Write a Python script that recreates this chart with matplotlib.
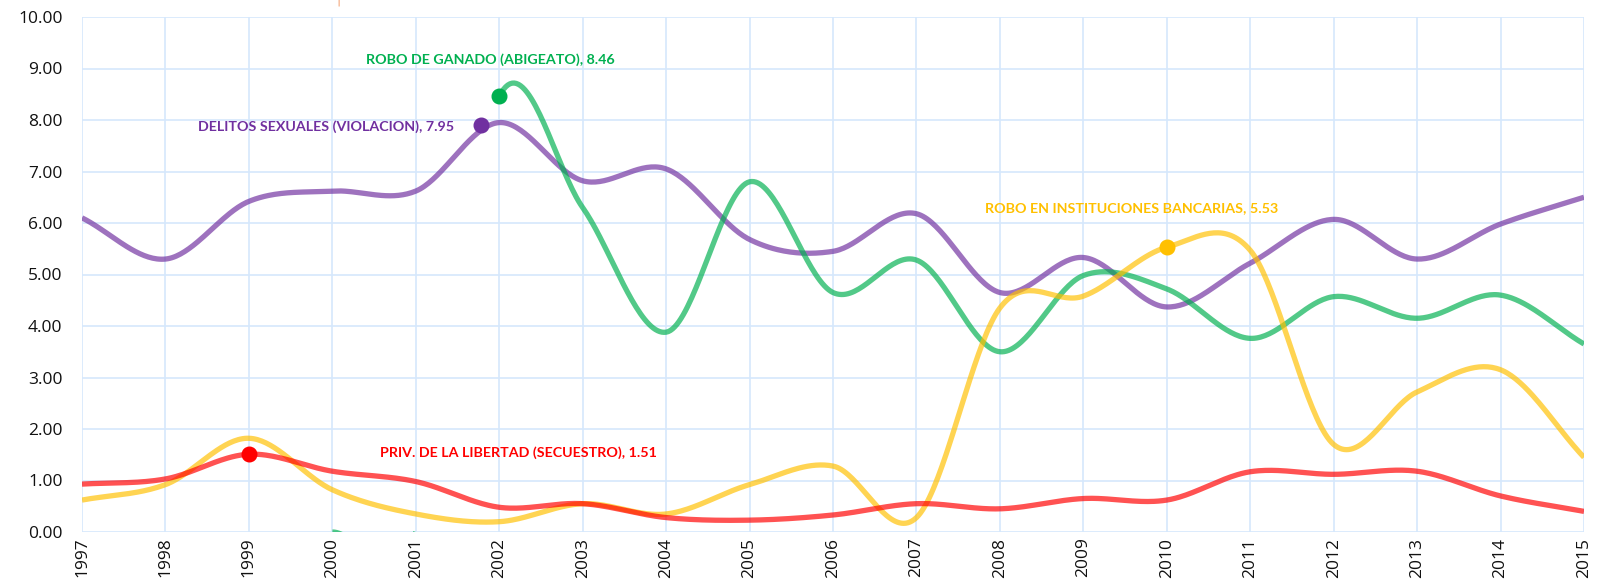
import numpy as np
import matplotlib
matplotlib.use("Agg")
import matplotlib.pyplot as plt

years = list(range(1997, 2016))

violacion = [6.10, 5.30, 6.42, 6.62, 6.62, 7.95, 6.82, 7.05, 5.68, 5.45,
             6.18, 4.65, 5.33, 4.37, 5.22, 6.07, 5.30, 5.98, 6.50]
abigeato = [np.nan, np.nan, np.nan, 0.0, 0.0, 8.46, 6.30, 3.88, 6.80, 4.65,
            5.28, 3.50, 4.98, 4.72, 3.76, 4.57, 4.15, 4.60, 3.65]
abigeato_gaps = [2001]  # segment starting at this year is not drawn
bancarias = [0.62, 0.92, 1.82, 0.82, 0.35, 0.20, 0.55, 0.35, 0.92, 1.28,
             0.28, 4.35, 4.58, 5.53, 5.47, 1.70, 2.72, 3.15, 1.45]
secuestro = [0.93, 1.03, 1.51, 1.18, 0.98, 0.48, 0.55, 0.28, 0.23, 0.33,
             0.55, 0.45, 0.65, 0.62, 1.17, 1.12, 1.18, 0.70, 0.40]

labels = ["DELITOS SEXUALES (VIOLACION), 7.95",
          "ROBO DE GANADO (ABIGEATO), 8.46",
          "ROBO EN INSTITUCIONES BANCARIAS, 5.53",
          "PRIV. DE LA LIBERTAD (SECUESTRO), 1.51"]
highlight_x = [2001.78, 2002, 2010, 1999]
highlight_y = [7.90, 8.46, 5.53, 1.51]

ytick_vals = [0, 1, 2, 3, 4, 5, 6, 7, 8, 9, 10]


def smooth_segments(xs, ys, gaps=(), n=40):
    xs = np.asarray(xs, float)
    ys = np.asarray(ys, float)
    N = len(xs)
    valid = ~np.isnan(ys)
    m = np.zeros(N)
    for i in range(N):
        if not valid[i]:
            continue
        lv = i > 0 and valid[i - 1]
        rv = i < N - 1 and valid[i + 1]
        if lv and rv:
            m[i] = (ys[i + 1] - ys[i - 1]) / 2.0
        elif rv:
            m[i] = ys[i + 1] - ys[i]
        elif lv:
            m[i] = ys[i] - ys[i - 1]
    pieces = []
    cur_x, cur_y = [], []
    for i in range(N - 1):
        if valid[i] and valid[i + 1] and xs[i] not in gaps:
            t = np.linspace(0, 1, n)
            h00 = 2 * t**3 - 3 * t**2 + 1
            h10 = t**3 - 2 * t**2 + t
            h01 = -2 * t**3 + 3 * t**2
            h11 = t**3 - t**2
            yy = h00 * ys[i] + h10 * m[i] + h01 * ys[i + 1] + h11 * m[i + 1]
            xx = xs[i] + t * (xs[i + 1] - xs[i])
            cur_x.extend(xx)
            cur_y.extend(yy)
        else:
            if cur_x:
                pieces.append((cur_x, cur_y))
            cur_x, cur_y = [], []
    if cur_x:
        pieces.append((cur_x, cur_y))
    return pieces


fig = plt.figure(figsize=(16.01, 5.85), dpi=100)
ax = fig.add_axes([82 / 1601, 53 / 585, (1584 - 82) / 1601, (532 - 17) / 585])

series = [
    (violacion, "#7030A0", ()),
    (abigeato, "#00B050", abigeato_gaps),
    (bancarias, "#FFC000", ()),
    (secuestro, "#FF0000", ()),
]
for vals, col, gaps in series:
    for xx, yy in smooth_segments(years, vals, gaps):
        ax.plot(xx, yy, color=col, alpha=0.68, lw=3.8, solid_capstyle="butt",
                zorder=3)

mcolors = ["#7030A0", "#00B050", "#FFC000", "#FF0000"]
for hx, hy, c in zip(highlight_x, highlight_y, mcolors):
    ax.plot([hx], [hy], "o", color=c, ms=10.5, zorder=5)

lab_font = dict(family=["Lato", "DejaVu Sans"], fontweight="bold", fontsize=10.3)
ax.text(2001.46, 7.88, labels[0], color="#7030A0", ha="right", va="center", **lab_font)
ax.text(2001.89, 9.17, labels[1], color="#00B050", ha="center", va="center", **lab_font)
ax.text(2007.82, 6.29, labels[2], color="#FFC000", ha="left", va="center", **lab_font)
ax.text(2000.57, 1.55, labels[3], color="#FF0000", ha="left", va="center", **lab_font)

ax.set_xlim(1997, 2015)
ax.set_ylim(0, 10)
ax.set_xticks(years)
ax.set_xticklabels([str(y) for y in years], rotation=90)
ax.set_yticks(ytick_vals)
ax.set_yticklabels([f"{v:.2f}" for v in ytick_vals])
for lab in ax.get_xticklabels() + ax.get_yticklabels():
    lab.set_family(["Open Sans", "DejaVu Sans"])
    lab.set_fontsize(12.5)
    lab.set_color("#111111")
ax.tick_params(length=0)
ax.tick_params(axis="y", pad=14)
ax.tick_params(axis="x", pad=4)
ax.grid(True, color="#D5E8FC", lw=1.2, zorder=0)
ax.set_axisbelow(True)
for s in ax.spines.values():
    s.set_visible(False)

fig.text(338 / 1601, 1.0, "|", color="#F4A070", fontsize=9, ha="center", va="center")

fig.savefig("out.png", dpi=100)
